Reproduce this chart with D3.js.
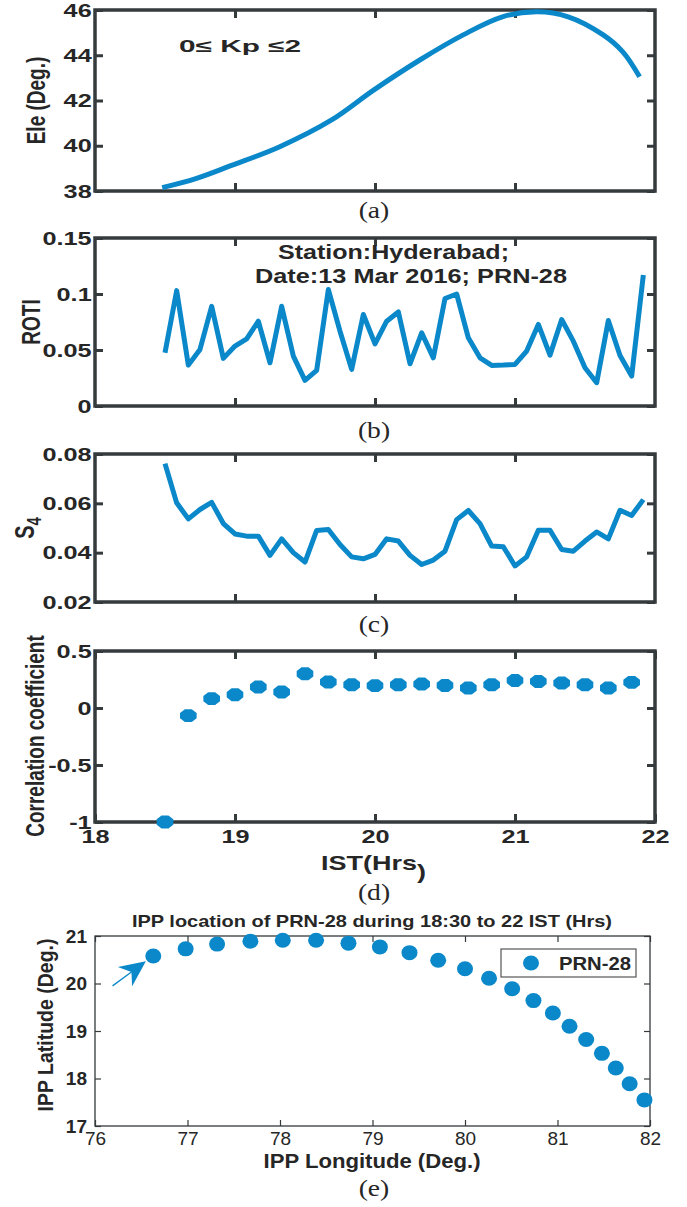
<!DOCTYPE html>
<html>
<head>
<meta charset="utf-8">
<script src="https://cdn.jsdelivr.net/npm/d3@7"></script>
<style>
  body { margin: 0; background: #fff; }
  svg { display: block; }
  text { font-family: "Liberation Sans", Arial, Helvetica, sans-serif; fill: #262626; }
</style>
</head>
<body>
<div id="chart-area"></div>
<script>
// ---------- values ----------
// (a) elevation of PRN-28 (deg) against IST hours
const eleHours = [18.48, 18.72, 18.97, 19.32, 19.69, 19.99, 20.32, 20.63, 20.91, 21.16, 21.38, 21.63, 21.77, 21.89];
const eleDeg = [38.15, 38.55, 39.12, 39.96, 41.14, 42.46, 43.79, 44.9, 45.7, 45.92, 45.7, 44.9, 44.15, 43.05];

// (b) ROTI and (c) S4, 5 minute samples
const sampleTimes = [
  '18:30', '18:35', '18:40', '18:45', '18:50', '18:55', '19:00', '19:05', '19:10', '19:15',
  '19:20', '19:25', '19:30', '19:35', '19:40', '19:45', '19:50', '19:55', '20:00', '20:05',
  '20:10', '20:15', '20:20', '20:25', '20:30', '20:35', '20:40', '20:45', '20:50', '20:55',
  '21:00', '21:05', '21:10', '21:15', '21:20', '21:25', '21:30', '21:35', '21:40', '21:45',
  '21:50', '21:55',
];
const roti = [
  0.0475, 0.103, 0.0365, 0.0505, 0.089, 0.0425, 0.0535, 0.06, 0.0757, 0.0386,
  0.089, 0.0446, 0.0229, 0.0318, 0.104, 0.0668, 0.0327, 0.0817, 0.0555, 0.0757,
  0.084, 0.0377, 0.0653, 0.043, 0.096, 0.1, 0.0609, 0.043, 0.0362, 0.0365,
  0.0371, 0.049, 0.0728, 0.0454, 0.0772, 0.0579, 0.0342, 0.0208, 0.0763, 0.0451,
  0.0267, 0.117,
];
const s4 = [
  0.0761, 0.0602, 0.0537, 0.0575, 0.0604, 0.0518, 0.0476, 0.0467, 0.0467, 0.0389,
  0.0456, 0.04, 0.0362, 0.049, 0.0494, 0.0433, 0.0383, 0.0375, 0.0393, 0.0456,
  0.0447, 0.0389, 0.0352, 0.037, 0.0406, 0.0534, 0.0571, 0.0518, 0.0427, 0.0424,
  0.0346, 0.0383, 0.0491, 0.0491, 0.0413, 0.0406, 0.0447, 0.0484, 0.0456, 0.0572,
  0.0551, 0.0615,
];

// (d) correlation ROTI vs S4, 10 minute windows
const corrTimes = [
  '18:30', '18:40', '18:50', '19:00', '19:10', '19:20', '19:30', '19:40', '19:50', '20:00',
  '20:10', '20:20', '20:30', '20:40', '20:50', '21:00', '21:10', '21:20', '21:30', '21:40',
  '21:50',
];
const corr = [
  -1.0, -0.067, 0.082, 0.117, 0.184, 0.14, 0.3, 0.228, 0.204, 0.196,
  0.204, 0.21, 0.198, 0.175, 0.204, 0.242, 0.233, 0.219, 0.204, 0.175,
  0.225,
];

// (e) IPP track
const ippLon = [76.63, 76.98, 77.32, 77.68, 78.03, 78.39, 78.74, 79.08, 79.4, 79.71, 80.0, 80.26, 80.51, 80.74, 80.95, 81.13, 81.31, 81.48, 81.63, 81.78, 81.94];
const ippLat = [20.58, 20.73, 20.83, 20.89, 20.91, 20.91, 20.85, 20.77, 20.65, 20.49, 20.31, 20.11, 19.89, 19.64, 19.38, 19.1, 18.82, 18.53, 18.22, 17.89, 17.55];
const arrowLon = [76.19, 76.55];
const arrowLat = [19.95, 20.47];

// ticks
const hourTicks = [18, 19, 20, 21, 22];
const innerHourTicks = [19, 20, 21];
const eleTicks = [38, 40, 42, 44, 46];
const rotiTicks = [0, 0.05, 0.1, 0.15];
const s4Ticks = [0.02, 0.04, 0.06, 0.08];
const corrTicks = [-1, -0.5, 0, 0.5];
const lonTicks = [76, 77, 78, 79, 80, 81, 82];
const latTicks = [17, 18, 19, 20, 21];

// ---------- setup ----------
const width = 687;
const height = 1207;
const blue = '#0a88c9';
const ink = '#353a3c';
const sx = 1.33; // the figure is stretched sideways, text too
const serif = '"Liberation Serif", "Times New Roman", serif';

const parseTime = d3.timeParse('%H:%M');
const toHours = (s) => {
  const t = parseTime(s);
  return t.getHours() + t.getMinutes() / 60;
};

const svg = d3
  .select('#chart-area')
  .append('svg')
  .attr('width', width)
  .attr('height', height)
  .attr('viewBox', `0 0 ${width} ${height}`);

function addText(x, y, str, o) {
  let tr = `translate(${x},${y}) scale(${o.sx || 1},1)`;
  if (o.rotate) tr += ' rotate(-90)';
  const t = svg
    .append('text')
    .attr('transform', tr)
    .attr('text-anchor', o.anchor || 'middle')
    .style('font-size', `${o.size}px`)
    .style('font-weight', o.weight || 'bold')
    .style('font-family', o.family || null)
    .text(str);
  if (o.length) t.attr('textLength', o.length).attr('lengthAdjust', 'spacingAndGlyphs');
  return t;
}

// boxed panel with inward ticks on every side
function makePanel(p) {
  const x = d3.scaleLinear().domain(p.xDomain).range([p.left, p.right]);
  const y = d3.scaleLinear().domain(p.yDomain).range([p.bottom, p.top]);
  const g = svg.append('g').style('color', ink);

  const leftAx = g
    .append('g')
    .attr('transform', `translate(${p.left},0)`)
    .call(
      d3.axisLeft(y).tickValues(p.yTicks).tickFormat((d) => `${d}`)
        .tickSizeInner(-p.tickLen).tickSizeOuter(0).tickPadding(p.yPad)
    );
  leftAx
    .selectAll('text')
    .attr('transform', `scale(${p.textSx},1)`)
    .style('font-size', '19px')
    .style('font-weight', 'bold');

  g.append('g')
    .attr('transform', `translate(${p.right},0)`)
    .call(d3.axisRight(y).tickValues(p.yTicks).tickFormat('').tickSizeInner(-p.tickLen).tickSizeOuter(0));

  g.append('g')
    .attr('transform', `translate(0,${p.top})`)
    .call(d3.axisTop(x).tickValues(p.xTicks).tickFormat('').tickSizeInner(-p.tickLen).tickSizeOuter(0));

  const botAx = g
    .append('g')
    .attr('transform', `translate(0,${p.bottom})`)
    .call(
      d3.axisBottom(x).tickValues(p.xTicks)
        .tickFormat(p.xLabels ? (d) => `${d}` : '')
        .tickSizeInner(-p.tickLen).tickSizeOuter(0).tickPadding(p.xPad || 0)
    );
  botAx
    .selectAll('text')
    .attr('transform', `scale(${p.xTextSx || p.textSx},1)`)
    .style('font-size', '19px')
    .style('font-weight', p.xWeight || 'bold');

  g.selectAll('.domain').remove();
  g.selectAll('.tick line').attr('stroke-width', p.tickWidth);

  g.append('rect')
    .attr('x', p.left)
    .attr('y', p.top)
    .attr('width', p.right - p.left)
    .attr('height', p.bottom - p.top)
    .attr('fill', 'none')
    .attr('stroke', ink)
    .attr('stroke-width', p.boxWidth);

  return { g, x, y };
}

const boxed = { left: 95, right: 655, xDomain: [18, 22], tickLen: 8, tickWidth: 3, boxWidth: 3.5, yPad: 2.5, textSx: sx };

// ---------- (a) elevation ----------
const pa = makePanel({ ...boxed, top: 10, bottom: 191, yDomain: [38, 46], yTicks: eleTicks, xTicks: innerHourTicks });
const eleLine = d3
  .line()
  .curve(d3.curveCatmullRom)
  .x((d, i) => pa.x(eleHours[i]))
  .y((d) => pa.y(d));
pa.g.append('path')
  .attr('d', eleLine(eleDeg))
  .attr('fill', 'none')
  .attr('stroke', blue)
  .attr('stroke-width', 5);
addText(179, 52, '0\u2264 Kp \u22642', { size: 17, anchor: 'start', length: 122 });
addText(45, 100.5, 'Ele (Deg.)', { size: 19, rotate: true, sx: 1.35 });
addText(374, 218, '(a)', { size: 23, weight: 'normal', family: serif, sx: 1.2 });

// ---------- (b) ROTI ----------
const pb = makePanel({ ...boxed, top: 238, bottom: 406, yDomain: [0, 0.15], yTicks: rotiTicks, xTicks: innerHourTicks });
const sampleLine = (panel) =>
  d3.line()
    .x((d, i) => panel.x(toHours(sampleTimes[i])))
    .y((d) => panel.y(d));
pb.g.append('path')
  .attr('d', sampleLine(pb)(roti))
  .attr('fill', 'none')
  .attr('stroke', blue)
  .attr('stroke-width', 5)
  .attr('stroke-linejoin', 'round');
addText(278, 259, 'Station:Hyderabad;', { size: 20, anchor: 'start', length: 231 });
addText(255, 283, 'Date:13 Mar 2016; PRN-28', { size: 20, anchor: 'start', length: 312 });
addText(40, 322, 'ROTI', { size: 19, rotate: true, sx: 1.35 });
addText(374, 438, '(b)', { size: 23, weight: 'normal', family: serif, sx: 1.2 });

// ---------- (c) S4 ----------
const pc = makePanel({ ...boxed, top: 454, bottom: 602, yDomain: [0.02, 0.08], yTicks: s4Ticks, xTicks: innerHourTicks });
pc.g.append('path')
  .attr('d', sampleLine(pc)(s4))
  .attr('fill', 'none')
  .attr('stroke', blue)
  .attr('stroke-width', 5)
  .attr('stroke-linejoin', 'round');
const s4Label = addText(34, 528, 'S', { size: 20, rotate: true, sx: 1.35 });
s4Label.append('tspan').attr('dy', 5).style('font-size', '15px').text('4');
addText(374, 632, '(c)', { size: 23, weight: 'normal', family: serif, sx: 1.2 });

// ---------- (d) correlation ----------
const pd = makePanel({
  ...boxed, top: 651, bottom: 822, yDomain: [-1, 0.5], yTicks: corrTicks,
  xTicks: hourTicks, xLabels: true, xPad: 8,
});
const octagon = (rx, ry) =>
  'M' +
  d3.range(8).map((k) => {
    const a = Math.PI / 8 + (k * Math.PI) / 4;
    return [rx * Math.cos(a), ry * Math.sin(a)];
  }).join('L') + 'Z';
pd.g.selectAll('.corr-dot')
  .data(corr)
  .enter()
  .append('path')
  .attr('class', 'corr-dot')
  .attr('d', octagon(9, 7))
  .attr('transform', (d, i) => `translate(${pd.x(toHours(corrTimes[i]))},${pd.y(d)})`)
  .attr('fill', blue);
addText(44, 736, 'Correlation coefficient', { size: 19, rotate: true, sx: 1.35 });
const istLabel = addText(321, 870, 'IST(Hrs', { size: 20, anchor: 'start', sx: 1.35 });
istLabel.append('tspan').attr('dy', 9).text(')');
addText(374, 900, '(d)', { size: 23, weight: 'normal', family: serif, sx: 1.2 });

// ---------- (e) IPP track ----------
const pe = makePanel({
  left: 95, right: 650, top: 936, bottom: 1126, xDomain: [76, 82], yDomain: [17, 21],
  xTicks: lonTicks, yTicks: latTicks, xLabels: true, xPad: 6, xWeight: 'normal', xTextSx: 1,
  tickLen: 6, tickWidth: 1.2, boxWidth: 1.3, yPad: 8, textSx: 1,
});
pe.g.selectAll('.ipp-dot')
  .data(ippLon)
  .enter()
  .append('ellipse')
  .attr('class', 'ipp-dot')
  .attr('cx', (d) => pe.x(d))
  .attr('cy', (d, i) => pe.y(ippLat[i]))
  .attr('rx', 8)
  .attr('ry', 7.5)
  .attr('fill', blue);

// start arrow
const ax0 = pe.x(arrowLon[0]), ay0 = pe.y(arrowLat[0]);
const ax1 = pe.x(arrowLon[1]), ay1 = pe.y(arrowLat[1]);
const ang = Math.atan2(ay1 - ay0, ax1 - ax0);
const ux = Math.cos(ang), uy = Math.sin(ang);
const nx = -uy, ny = ux;
const headLen = 26, headHalf = 12, notch = 18;
pe.g.append('line')
  .attr('x1', ax0).attr('y1', ay0)
  .attr('x2', ax1 - ux * notch).attr('y2', ay1 - uy * notch)
  .attr('stroke', blue)
  .attr('stroke-width', 1.3);
pe.g.append('path')
  .attr('d', `M${ax1},${ay1}L${ax1 - ux * headLen + nx * headHalf},${ay1 - uy * headLen + ny * headHalf}` +
    `L${ax1 - ux * notch},${ay1 - uy * notch}L${ax1 - ux * headLen - nx * headHalf},${ay1 - uy * headLen - ny * headHalf}Z`)
  .attr('fill', blue);

// legend
const legend = svg.append('g').attr('transform', 'translate(501, 949)');
legend.append('rect')
  .attr('width', 135).attr('height', 28)
  .attr('fill', '#fff').attr('stroke', '#555').attr('stroke-width', 1.2);
legend.append('ellipse').attr('cx', 30).attr('cy', 14).attr('rx', 8).attr('ry', 7.5).attr('fill', blue);
legend.append('text')
  .attr('x', 58).attr('y', 21)
  .attr('textLength', 72).attr('lengthAdjust', 'spacingAndGlyphs')
  .style('font-size', '19px').style('font-weight', 'bold')
  .text('PRN-28');

addText(372, 927, 'IPP location of PRN-28 during 18:30 to 22 IST (Hrs)', { size: 17, length: 480 });
addText(372, 1168, 'IPP Longitude (Deg.)', { size: 20, length: 217 });
addText(53, 1025, 'IPP Latitude (Deg.)', { size: 19.5, rotate: true, sx: 1.1 });
addText(374, 1196, '(e)', { size: 23, weight: 'normal', family: serif, sx: 1.2 });
</script>
</body>
</html>
